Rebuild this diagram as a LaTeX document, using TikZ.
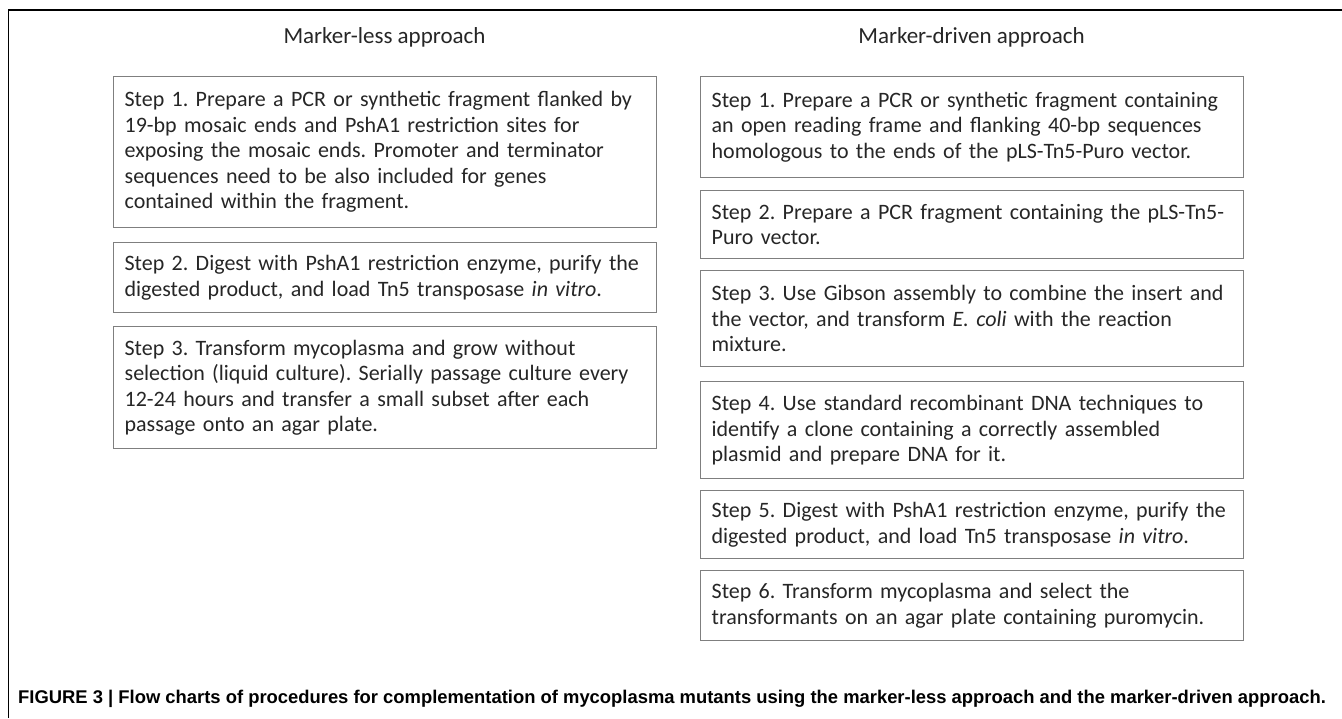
\documentclass[tikz,border=0pt]{standalone}
\usepackage{fontspec}
\setmainfont{Carlito}
\newfontfamily\capfont{Liberation Sans}
\definecolor{txt}{HTML}{262626}
\definecolor{boxline}{HTML}{7F7F7F}
\newcommand{\boxfont}{\fontsize{22}{25.5}\selectfont\spaceskip=0.19em plus 0.05em minus 0.02em\relax}
\begin{document}
\frenchspacing
\begin{tikzpicture}[x=1pt,y=-1pt,
  stepbox/.style={draw=boxline, line width=1.3pt, anchor=north west,
    text width=521pt, inner xsep=11pt, inner ysep=0pt, align=left,
    minimum width=543pt, font=\boxfont, text=txt},
  title/.style={font=\fontsize{23}{26}\selectfont, text=txt},
  frame/.style={line width=1.2pt, black}]
\useasboundingbox (0,0) rectangle (1342,718);
\coordinate (fa) at (8.5,718);
\coordinate (fb) at (8.5,10);
\coordinate (fc) at (1342,10);
\draw[frame] (fa) -- (fb) -- (fc);

\node[title] (tl) at (384.5,37) {Marker-less approach};
\node[title] (tr) at (971.5,37) {Marker-driven approach};

\node[stepbox, minimum height=151pt] (l1) at (113,76) {Step 1. Prepare a PCR or synthetic fragment flanked by\\19-bp mosaic ends and PshA1 restriction sites for\\exposing the mosaic ends. Promoter and terminator\\sequences need to be also included for genes\\contained within the fragment.};
\node[stepbox, minimum height=70pt] (l2) at (113,242) {Step 2. Digest with PshA1 restriction enzyme, purify the\\digested product, and load Tn5 transposase \textit{in vitro}.};
\node[stepbox, minimum height=122pt] (l3) at (113,326) {Step 3. Transform mycoplasma and grow without\\selection (liquid culture). Serially passage culture every\\12-24 hours and transfer a small subset after each\\passage onto an agar plate.};

\node[stepbox, minimum height=101pt] (r1) at (700,76) {Step 1. Prepare a PCR or synthetic fragment containing\\an open reading frame and flanking 40-bp sequences\\homologous to the ends of the pLS-Tn5-Puro vector.};
\node[stepbox, minimum height=68pt] (r2) at (700,190) {Step 2. Prepare a PCR fragment containing the pLS-Tn5-\\Puro vector.};
\node[stepbox, minimum height=96pt] (r3) at (700,270) {Step 3. Use Gibson assembly to combine the insert and\\the vector, and transform \textit{E. coli} with the reaction\\mixture.};
\node[stepbox, minimum height=97pt] (r4) at (700,381) {Step 4. Use standard recombinant DNA techniques to\\identify a clone containing a correctly assembled\\plasmid and prepare DNA for it.};
\node[stepbox, minimum height=68pt] (r5) at (700,490) {Step 5. Digest with PshA1 restriction enzyme, purify the\\digested product, and load Tn5 transposase \textit{in vitro}.};
\node[stepbox, minimum height=70pt] (r6) at (700,570) {Step 6. Transform mycoplasma and select the\\transformants on an agar plate containing puromycin.};

\node[anchor=west, inner sep=0pt, font=\capfont\bfseries\fontsize{18.4}{21}\selectfont] (cap) at (18,699) {FIGURE 3 | Flow charts of procedures for complementation of mycoplasma mutants using the marker-less approach and the marker-driven approach.};
\end{tikzpicture}
\end{document}
